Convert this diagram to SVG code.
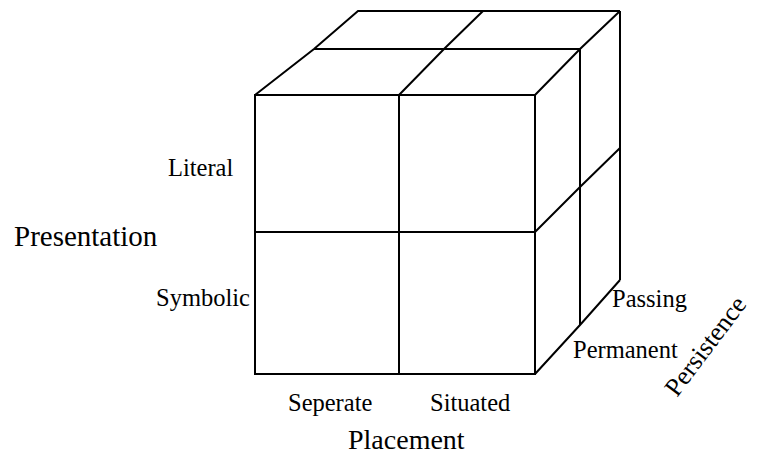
<svg xmlns="http://www.w3.org/2000/svg" width="757" height="454" viewBox="0 0 757 454">
<style>
.ln{fill:none;stroke:#000;stroke-width:2;stroke-linejoin:miter}
.t{font-family:"Liberation Serif","Times New Roman",serif;fill:#000}
.s{font-size:24.5px}
.b{font-size:29px}
</style>
<rect width="757" height="454" fill="#fff"/>
<g id="cube">
<g id="front-face">
<path class="ln" d="M255,95 H535 V374 H255 Z"/>
<path class="ln" d="M399,95 V374 M255,232 H535"/>
</g>
<g id="top-face">
<path class="ln" d="M255,95 L314,49 L358,11 H620"/>
<path class="ln" d="M314,49 H580"/>
<path class="ln" d="M399,95 L444,49 L483,11"/>
<path class="ln" d="M535,95 L580,49 L620,11"/>
</g>
<g id="side-face">
<path class="ln" d="M580,49 V325"/>
<path class="ln" d="M620,11 V280"/>
<path class="ln" d="M535,232 L580,187 L620,148"/>
<path class="ln" d="M535,374 L580,325 L620,280"/>
</g>
</g>
<g id="labels">
<text class="t s" x="168" y="176">Literal</text>
<text class="t s" x="156" y="306">Symbolic</text>
<text class="t b" x="14" y="246">Presentation</text>
<text class="t s" x="288" y="411">Seperate</text>
<text class="t s" x="430" y="411">Situated</text>
<text class="t" style="font-size:28px" x="348" y="449">Placement</text>
<text class="t" style="font-size:26px" transform="translate(677,398) rotate(-53)">Persistence</text>
</g>
<g id="side-labels">
<text class="t s" x="612" y="307">Passing</text>
<text class="t s" x="573" y="358">Permanent</text>
</g>
</svg>
